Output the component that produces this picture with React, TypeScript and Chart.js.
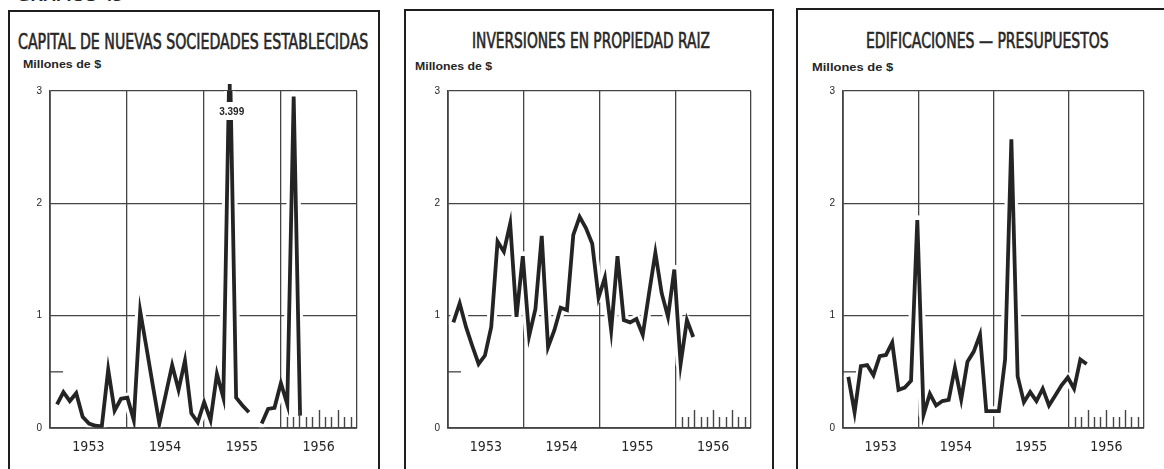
import React, { useEffect, useLayoutEffect, useRef, useState } from "react";
import { Chart, registerables } from "chart.js";

Chart.register(...registerables);

// ---------- data ----------
const yearLabels = ["1953", "1954", "1955", "1956"];
const yTickLabels = ["0", "1", "2", "3"];
const minorTickMonths = [37, 38, 39, 40, 41, 42, 43, 44, 45, 46, 47];
const quarterTickMonths = [39, 42, 45];

const capitalValues = [
  0.21, 0.32, 0.24, 0.31, 0.1, 0.04, 0.02, 0.015, 0.52, 0.155, 0.26, 0.27,
  0.07, 1.04, 0.71, 0.37, 0.04, 0.3, 0.56, 0.34, 0.6, 0.13, 0.05, 0.23,
  0.07, 0.48, 0.27, 3.399, 0.27, 0.2, 0.14, null, 0.04, 0.17, 0.18, 0.4,
  0.21, 2.95, 0.11,
];
const inversionesValues = [
  0.94, 1.11, 0.9, 0.73, 0.57, 0.645, 0.9, 1.66, 1.57, 1.82, 0.99, 1.53,
  0.82, 1.06, 1.71, 0.72, 0.87, 1.07, 1.05, 1.72, 1.88, 1.78, 1.64, 1.16,
  1.34, 0.87, 1.53, 0.96, 0.94, 0.97, 0.83, 1.2, 1.56, 1.2, 0.99, 1.41,
  0.57, 0.96, 0.81,
];
const edificacionesValues = [
  0.455, 0.14, 0.55, 0.56, 0.47, 0.64, 0.65, 0.76, 0.34, 0.36, 0.42, 1.85,
  0.12, 0.305, 0.2, 0.24, 0.25, 0.535, 0.255, 0.59, 0.68, 0.83, 0.15, 0.15,
  0.15, 0.61, 2.57, 0.46, 0.23, 0.32, 0.24, 0.35, 0.2, 0.29, 0.38, 0.45,
  0.35, 0.61, 0.57,
];
// month (from Jan 1953 = 0) of the first observation of each series
const capitalStartMonth = 1.1;
const inversionesStartMonth = 0.85;
const edificacionesStartMonth = 0.85;

const titles = [
  "CAPITAL DE NUEVAS SOCIEDADES ESTABLECIDAS",
  "INVERSIONES EN PROPIEDAD RAIZ",
  "EDIFICACIONES \u2014 PRESUPUESTOS",
];
const unitsLabel = "Millones de $";
const breakLabel = "3.399";
const breakIndex = 27;

// ---------- styles ----------
const INK = "#242424";
const GRID = "#444444";
const TEXT = "#262626";
const NARROW = '"Liberation Sans Narrow", "DejaVu Sans Condensed", "Liberation Sans", Arial, sans-serif';
const SANS = '"Liberation Sans", Arial, sans-serif';

const PAD_TOP = 10;
const PAD_RIGHT = 8;
const Y_AXIS_W = 30;
const X_AXIS_H = 40;

const extrasPlugin = {
  id: "extras",
  afterDatasetsDraw(chart: any, _args: any, opts: any) {
    const { ctx, chartArea: a, scales } = chart;
    const xs = scales.x;
    const ys = scales.y;
    ctx.save();
    ctx.strokeStyle = GRID;
    ctx.lineWidth = 1.3;
    ctx.beginPath();
    ctx.moveTo(a.left, a.top);
    ctx.lineTo(a.left, a.bottom);
    ctx.lineTo(a.right, a.bottom);
    ctx.stroke();
    // half-unit tick
    const yh = ys.getPixelForValue(0.5);
    ctx.beginPath();
    ctx.moveTo(a.left, yh);
    ctx.lineTo(a.left + 13, yh);
    ctx.stroke();
    // monthly ticks for last year
    ctx.lineWidth = 1.4;
    for (const m of minorTickMonths) {
      const x = Math.round(xs.getPixelForValue(m)) + 0.5;
      const len = quarterTickMonths.includes(m) ? 18 : 11;
      ctx.beginPath();
      ctx.moveTo(x, a.bottom);
      ctx.lineTo(x, a.bottom - len);
      ctx.stroke();
    }
    // broken peak label
    if (opts && opts.breakMonth != null) {
      const x = xs.getPixelForValue(opts.breakMonth);
      ctx.fillStyle = "#ffffff";
      ctx.fillRect(x - 15, a.top + 11, 32, 18);
      ctx.fillStyle = TEXT;
      ctx.font = "bold 10px " + SANS;
      ctx.textAlign = "center";
      ctx.textBaseline = "middle";
      ctx.fillText(opts.breakText, x + 2, a.top + 21);
      ctx.strokeStyle = INK;
      ctx.lineWidth = 3.8;
      ctx.beginPath();
      ctx.moveTo(x, a.top - 7);
      ctx.lineTo(x, a.top - 1);
      ctx.stroke();
    }
    ctx.restore();
  },
};

type Plot = { L: number; R: number; T: number; B: number };

function LineChart({ values, start, plot, breakAt }: { values: (number | null)[]; start: number; plot: Plot; breakAt?: number }) {
  const ref = useRef<HTMLCanvasElement>(null);
  const width = plot.R - plot.L + Y_AXIS_W + PAD_RIGHT;
  const height = plot.B - plot.T + PAD_TOP + X_AXIS_H;
  useEffect(() => {
    if (!ref.current) return;
    const pts = values.map((v, i) => ({ x: start + i, y: v }));
    const chart = new Chart(ref.current, {
      type: "line",
      data: {
        datasets: [
          {
            data: pts as any,
            borderColor: INK,
            borderWidth: 3.8,
            pointRadius: 0,
            borderJoinStyle: "miter",
            tension: 0,
            spanGaps: false,
          },
          {
            data: pts as any,
            borderColor: "#ffffff",
            borderWidth: 10,
            pointRadius: 0,
            borderJoinStyle: "round",
            borderCapStyle: "round",
            tension: 0,
            spanGaps: false,
          },
        ],
      },
      options: {
        animation: false,
        responsive: false,
        maintainAspectRatio: false,
        events: [],
        layout: { padding: { top: PAD_TOP, right: PAD_RIGHT, left: 0, bottom: 0 } },
        plugins: {
          legend: { display: false },
          tooltip: { enabled: false },
          title: { display: false },
          extras: breakAt != null ? { breakMonth: start + breakAt, breakText: breakLabel } : {},
        } as any,
        scales: {
          x: {
            type: "linear",
            min: 0,
            max: 48,
            afterBuildTicks: (axis: any) => {
              const t = [];
              for (let v = 0; v <= 48; v += 6) t.push({ value: v });
              axis.ticks = t;
            },
            afterFit: (s: any) => {
              s.height = X_AXIS_H;
            },
            grid: {
              color: (c: any) => (c.tick && c.tick.value % 12 === 0 ? GRID : "rgba(0,0,0,0)"),
              lineWidth: 1.3,
              drawTicks: false,
            },
            border: { display: true, color: GRID, width: 1.3 },
            ticks: {
              autoSkip: false,
              maxRotation: 0,
              padding: 11,
              color: TEXT,
              font: { family: NARROW, size: 14 },
              callback: (v: any) => (v % 12 === 6 ? yearLabels[(v - 6) / 12] : ""),
            },
          },
          y: {
            type: "linear",
            min: 0,
            max: 3,
            afterBuildTicks: (axis: any) => {
              axis.ticks = [0, 1, 2, 3].map((v) => ({ value: v }));
            },
            afterFit: (s: any) => {
              s.width = Y_AXIS_W;
            },
            grid: { color: GRID, lineWidth: 1.3, drawTicks: false },
            border: { display: true, color: GRID, width: 1.3 },
            ticks: {
              padding: 8,
              color: TEXT,
              font: { family: SANS, size: 10 },
              callback: (v: any) => yTickLabels[v] ?? "",
            },
          },
        },
      },
      plugins: [extrasPlugin],
    } as any);
    return () => chart.destroy();
  }, []);
  return (
    <canvas
      ref={ref}
      width={width}
      height={height}
      style={{ position: "absolute", left: plot.L - Y_AXIS_W, top: plot.T - PAD_TOP, width, height }}
    />
  );
}

function FitText({ text, left, top, width, size, weight, family, stroke }: any) {
  const ref = useRef<HTMLSpanElement>(null);
  const [scale, setScale] = useState(1);
  useLayoutEffect(() => {
    if (ref.current && ref.current.offsetWidth > 0) setScale(width / ref.current.offsetWidth);
  }, []);
  return (
    <span
      ref={ref}
      style={{
        position: "absolute",
        left,
        top,
        whiteSpace: "nowrap",
        fontSize: size,
        lineHeight: 1,
        fontFamily: family,
        fontWeight: weight,
        color: TEXT,
        WebkitTextStroke: stroke ? `${stroke}px ${TEXT}` : undefined,
        transform: `scaleX(${scale})`,
        transformOrigin: "left top",
      }}
    >
      {text}
    </span>
  );
}

const panels = [
  {
    frame: { left: 8, top: 10, width: 372 },
    title: { left: 18, top: 32, width: 350 },
    units: { left: 23, top: 58.5, width: 78 },
    plot: { L: 50, R: 360, T: 87, B: 428 },
    values: capitalValues,
    start: capitalStartMonth,
    breakAt: breakIndex,
  },
  {
    frame: { left: 404, top: 9, width: 370 },
    title: { left: 472, top: 31, width: 238 },
    units: { left: 415, top: 60.5, width: 77 },
    plot: { L: 448, R: 754, T: 87, B: 428 },
    values: inversionesValues,
    start: inversionesStartMonth,
  },
  {
    frame: { left: 796, top: 8, width: 400 },
    title: { left: 866, top: 31, width: 243 },
    units: { left: 812, top: 61.5, width: 81 },
    plot: { L: 843, R: 1147, T: 87, B: 428 },
    values: edificacionesValues,
    start: edificacionesStartMonth,
  },
];

export default function App() {
  return (
    <div
      style={{
        position: "fixed",
        left: 0,
        top: 0,
        width: 1164,
        height: 469,
        overflow: "hidden",
        background: "#ffffff",
      }}
    >
      <FitText text="GRAFICO 43" left={17} top={-9} width={105} size={12} weight="bold" family={SANS} />
      {panels.map((p, i) => (
        <React.Fragment key={i}>
          <div
            style={{
              position: "absolute",
              left: p.frame.left,
              top: p.frame.top,
              width: p.frame.width,
              height: 520,
              border: "2px solid #1e1e1e",
              boxSizing: "border-box",
            }}
          />
          <FitText text={titles[i]} left={p.title.left} top={p.title.top} width={p.title.width} size={21} weight="normal" family={NARROW} stroke={0.6} />
          <FitText text={unitsLabel} left={p.units.left} top={p.units.top} width={p.units.width} size={11} weight="bold" family={SANS} />
          <LineChart values={p.values} start={p.start} plot={p.plot} breakAt={(p as any).breakAt} />
        </React.Fragment>
      ))}
    </div>
  );
}
